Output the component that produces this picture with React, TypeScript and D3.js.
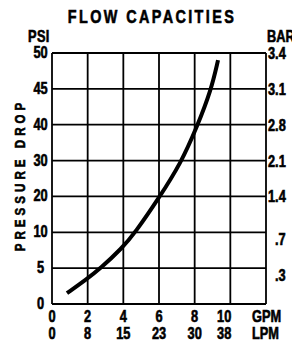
import React from "react";
import * as d3 from "d3";

const title = "FLOW CAPACITIES";
const psiTicks = [0, 5, 10, 20, 30, 40, 45, 50];
const barLabels = ["", ".3", ".7", "1.4", "2.1", "2.8", "3.1", "3.4"];
const gpmTicks = [0, 2, 4, 6, 8, 10];
const lpmLabels = ["0", "8", "15", "23", "30", "38"];
const curveGpm = [0.84, 1.96, 2.69, 3.93, 4.65, 6.0, 7.23, 8.13, 8.92, 9.31];
const curvePsi = [1.5, 3.5, 4.9, 7.8, 9.9, 19.6, 29.3, 39.4, 44.8, 49.0];

const W = 292;
const H = 341;
const left = 52;
const right = 266;
const top = 53;
const bottom = 304;
const FONT = "'Liberation Sans', Arial, sans-serif";
const SX = 0.8;

type TProps = {
  x: number;
  y: number;
  size: number;
  anchor?: "start" | "middle" | "end";
  ls?: number;
  rotate?: number;
  children: React.ReactNode;
};

function T({ x, y, size, anchor = "middle", ls = 0, rotate = 0, children }: TProps) {
  return (
    <text
      transform={`translate(${x},${y}) rotate(${rotate}) scale(${SX},1)`}
      textAnchor={anchor}
      fontFamily={FONT}
      fontWeight={700}
      fontSize={size}
      letterSpacing={ls}
      fill="#000"
      stroke="#000"
      strokeWidth={0.6}
    >
      {children}
    </text>
  );
}

export default function App() {
  const x = d3.scaleLinear().domain([0, 12]).range([left, right]);
  const step = (bottom - top) / (psiTicks.length - 1);
  const y = d3
    .scaleLinear()
    .domain(psiTicks)
    .range(psiTicks.map((_, i) => bottom - i * step));

  const line = d3
    .line<number>()
    .x((_, i) => x(curveGpm[i]))
    .y((d) => y(d))
    .curve(d3.curveBasis);

  const lastIdx = gpmTicks.length - 1;

  return (
    <svg
      width={W}
      height={H}
      viewBox={`0 0 ${W} ${H}`}
      style={{ position: "absolute", left: 0, top: 0, background: "#fff" }}
    >
      <rect x={0} y={0} width={W} height={H} fill="#fff" />
      <T x={152} y={23} size={18} ls={3}>{title}</T>
      <T x={28} y={42} size={16} anchor="start" ls={0.5}>PSI</T>
      <T x={267} y={42} size={16} anchor="start">BAR</T>
      <T x={25} y={175} size={14.5} rotate={-90} ls={5}>PRESSURE DROP</T>

      {psiTicks.map((t) => (
        <line key={"h" + t} x1={left} x2={right} y1={y(t)} y2={y(t)} stroke="#000" strokeWidth={1.8} />
      ))}
      {gpmTicks.map((t) => (
        <line key={"v" + t} x1={x(t)} x2={x(t)} y1={top} y2={bottom} stroke="#000" strokeWidth={1.8} />
      ))}
      <line x1={right} x2={right} y1={top} y2={bottom} stroke="#000" strokeWidth={1.8} />

      {psiTicks.map((t) => (
        <T key={"pl" + t} x={40.5} y={y(t) + 5} size={16}>
          {t}
        </T>
      ))}
      {barLabels.map((b, i) =>
        b ? (
          <T
            key={"bl" + i}
            x={b.startsWith(".") ? 275 : 268}
            y={y(psiTicks[i]) + (b.startsWith(".") ? 13 : 6)}
            size={16}
            anchor="start"
          >
            {b}
          </T>
        ) : null
      )}
      {gpmTicks.map((t, i) => (
        <T
          key={"g" + t}
          x={i === lastIdx ? x(t) + 1 : x(t)}
          y={322}
          size={16}
          anchor={i === lastIdx ? "end" : "middle"}
        >
          {t}
        </T>
      ))}
      {lpmLabels.map((l, i) => (
        <T
          key={"l" + l}
          x={i === lastIdx ? x(gpmTicks[i]) + 1 : x(gpmTicks[i])}
          y={339}
          size={16}
          anchor={i === lastIdx ? "end" : "middle"}
        >
          {l}
        </T>
      ))}
      <T x={252} y={322} size={16} anchor="start">GPM</T>
      <T x={252} y={339} size={16} anchor="start">LPM</T>

      <path d={line(curvePsi) || ""} fill="none" stroke="#000" strokeWidth={4} strokeLinecap="butt" />
    </svg>
  );
}
